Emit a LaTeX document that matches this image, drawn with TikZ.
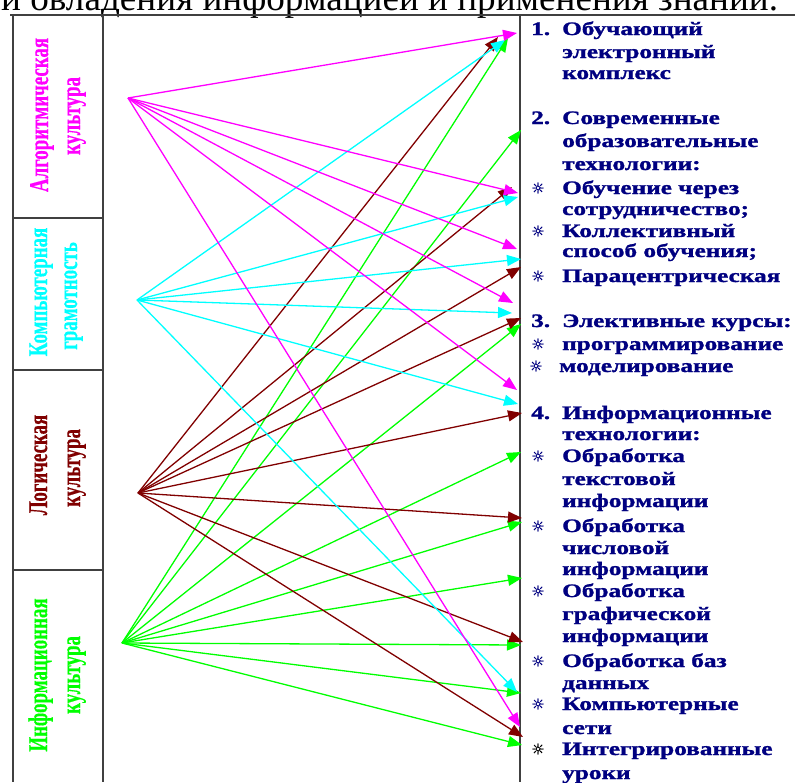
\documentclass[tikz,border=0pt]{standalone}
\usepackage{fontspec}
\usepackage{graphicx}
\setmainfont{Liberation Serif}
\newfontfamily\symfont[FakeBold=1.5]{DejaVu Sans}
\newfontfamily\heavyfont[FakeBold=1.2]{Liberation Serif Bold}
\newfontfamily\labfont[FakeBold=0.6]{Liberation Serif Bold}
\usetikzlibrary{arrows.meta}
\definecolor{navy}{RGB}{0,0,128}
\definecolor{mag}{RGB}{255,0,255}
\definecolor{cyn}{RGB}{0,255,255}
\definecolor{drd}{RGB}{128,0,0}
\definecolor{grn}{RGB}{0,255,0}
\newcommand{\lx}[1]{\scalebox{0.70}[1]{#1}}
\newcommand{\rx}[1]{\scalebox{1.33}[1]{#1}}
\begin{document}
\begin{tikzpicture}[x=1pt,y=-1pt,
  frame/.style={line width=1.6pt, draw=black!75},
  conn/.style={line width=1.3pt, -{Triangle[length=14pt,width=11pt]}},
  lab/.style={rotate=90, anchor=base, inner sep=0pt, font=\labfont\fontsize{27}{27}\selectfont},
  rt/.style={anchor=base west, inner sep=0pt, text=navy, font=\heavyfont\fontsize{19}{19}\selectfont},
  num/.style={anchor=base west, inner sep=0pt, text=navy, font=\heavyfont\fontsize{19}{19}\selectfont},
  bul/.style={anchor=center, inner sep=0pt, text=navy, font=\symfont\fontsize{15}{15}\selectfont}
]
\useasboundingbox (0,0) rectangle (795,782);
\begin{scope}
\clip (0,0) rectangle (795,782);
\node[anchor=base west, inner sep=0pt] (toptext) at (1,10) {\resizebox{777pt}{!}{и овладения информацией и применения знаний.}};
\end{scope}

% frame
\draw[frame] (10,15) -- (795,15);
\draw[frame] (13,15) -- (13,782);
\draw[frame] (103,15) -- (103,782);
\draw[frame] (520,15) -- (520,782);
\draw[frame] (13,218) -- (103,218);
\draw[frame] (13,370) -- (103,370);
\draw[frame] (13,570) -- (103,570);

% left labels
\node[lab, text=mag] (a1) at (48,115) {\lx{Алгоритмическая}};
\node[lab, text=mag] (a2) at (80,116) {\lx{культура}};
\node[lab, text=cyn] (k1) at (47,292) {\lx{Компьютерная}};
\node[lab, text=cyn] (k2) at (77,296) {\lx{грамотность}};
\node[lab, text=drd] (l1) at (47,465) {\lx{Логическая}};
\node[lab, text=drd] (l2) at (80,468) {\lx{культура}};
\node[lab, text=grn] (i1) at (47,675) {\lx{Информационная}};
\node[lab, text=grn] (i2) at (80,675) {\lx{культура}};

% right texts
\node[num] (n1) at (531,35) {\rx{1.}};
\node[rt] (r1) at (562,35) {\rx{Обучающий}};
\node[rt] (r2) at (562,58) {\rx{электронный}};
\node[rt] (r3) at (562,79) {\rx{комплекс}};
\node[num] (n2) at (531,124) {\rx{2.}};
\node[rt] (r4) at (562,124) {\rx{Современные}};
\node[rt] (r5) at (562,147) {\rx{образовательные}};
\node[rt] (r6) at (562,170) {\rx{технологии:}};
\node[bul] (b1) at (538,188) {☼};
\node[rt] (r7) at (562,194) {\rx{Обучение через}};
\node[rt] (r8) at (562,215) {\rx{сотрудничество;}};
\node[bul] (b2) at (538,231) {☼};
\node[rt] (r9) at (562,237) {\rx{Коллективный}};
\node[rt] (r10) at (562,257) {\rx{способ обучения;}};
\node[bul] (b3) at (538,276) {☼};
\node[rt] (r11) at (562,282) {\rx{Парацентрическая}};
\node[num] (n3) at (531,327) {\rx{3.}};
\node[rt] (r12) at (562,327) {\rx{Элективные курсы:}};
\node[bul] (b4) at (538,344) {☼};
\node[rt] (r13) at (562,350) {\rx{программирование}};
\node[bul] (b5) at (536,366) {☼};
\node[rt] (r14) at (559,372) {\rx{моделирование}};
\node[num] (n4) at (531,419) {\rx{4.}};
\node[rt] (r15) at (562,419) {\rx{Информационные}};
\node[rt] (r16) at (562,440) {\rx{технологии:}};
\node[bul] (b6) at (538,456) {☼};
\node[rt] (r17) at (562,462) {\rx{Обработка}};
\node[rt] (r18) at (562,485) {\rx{текстовой}};
\node[rt] (r19) at (562,507) {\rx{информации}};
\node[bul] (b7) at (538,526) {☼};
\node[rt] (r20) at (562,532) {\rx{Обработка}};
\node[rt] (r21) at (562,554) {\rx{числовой}};
\node[rt] (r22) at (562,575) {\rx{информации}};
\node[bul] (b8) at (538,591) {☼};
\node[rt] (r23) at (562,597) {\rx{Обработка}};
\node[rt] (r24) at (562,620) {\rx{графической}};
\node[rt] (r25) at (562,642) {\rx{информации}};
\node[bul] (b9) at (538,661) {☼};
\node[rt] (r26) at (562,667) {\rx{Обработка баз}};
\node[rt] (r27) at (562,689) {\rx{данных}};
\node[bul] (b10) at (538,704) {☼};
\node[rt] (r28) at (562,710) {\rx{Компьютерные}};
\node[rt] (r29) at (562,734) {\rx{сети}};
\node[bul, text=black] (b11) at (538,749) {☼};
\node[rt] (r30) at (562,755) {\rx{Интегрированные}};
\node[rt] (r31) at (562,779) {\rx{уроки}};

% sources
\coordinate (sA) at (128,98);
\coordinate (sK) at (137,300);
\coordinate (sL) at (138,493);
\coordinate (sI) at (122,643);

% targets
\coordinate (eA1) at (517,33);
\coordinate (eA2) at (518,193);
\coordinate (eA3) at (517,249);
\coordinate (eA4) at (513,303);
\coordinate (eA5) at (517,390);
\coordinate (eA6) at (520,727);

\coordinate (eK1) at (505,40);
\coordinate (eK2) at (518,197);
\coordinate (eK3) at (521,259);
\coordinate (eK4) at (512,313);
\coordinate (eK5) at (518,404);
\coordinate (eK6) at (517,692);

\coordinate (eL1) at (498,37);
\coordinate (eL2) at (512,187);
\coordinate (eL3) at (521,267);
\coordinate (eL4) at (521,318);
\coordinate (eL5) at (522,413);
\coordinate (eL6) at (522,518);
\coordinate (eL7) at (523,642);
\coordinate (eL8) at (523,737);

\coordinate (eI1) at (508,38);
\coordinate (eI2) at (521,130);
\coordinate (eI3) at (521,324);
\coordinate (eI4) at (521,452);
\coordinate (eI5) at (522,522);
\coordinate (eI6) at (522,578);
\coordinate (eI7) at (521,645);
\coordinate (eI8) at (521,693);
\coordinate (eI9) at (522,745);

\foreach \e in {eI1,eI2,eI3,eI4,eI5,eI6,eI7,eI8,eI9} \draw[conn, grn] (sI) -- (\e);
\foreach \e in {eL1,eL2,eL3,eL4,eL5,eL6,eL7,eL8} \draw[conn, drd] (sL) -- (\e);
\foreach \e in {eK1,eK2,eK3,eK4,eK5,eK6} \draw[conn, cyn] (sK) -- (\e);
\foreach \e in {eA1,eA2,eA3,eA4,eA5,eA6} \draw[conn, mag] (sA) -- (\e);
\end{tikzpicture}
\end{document}
